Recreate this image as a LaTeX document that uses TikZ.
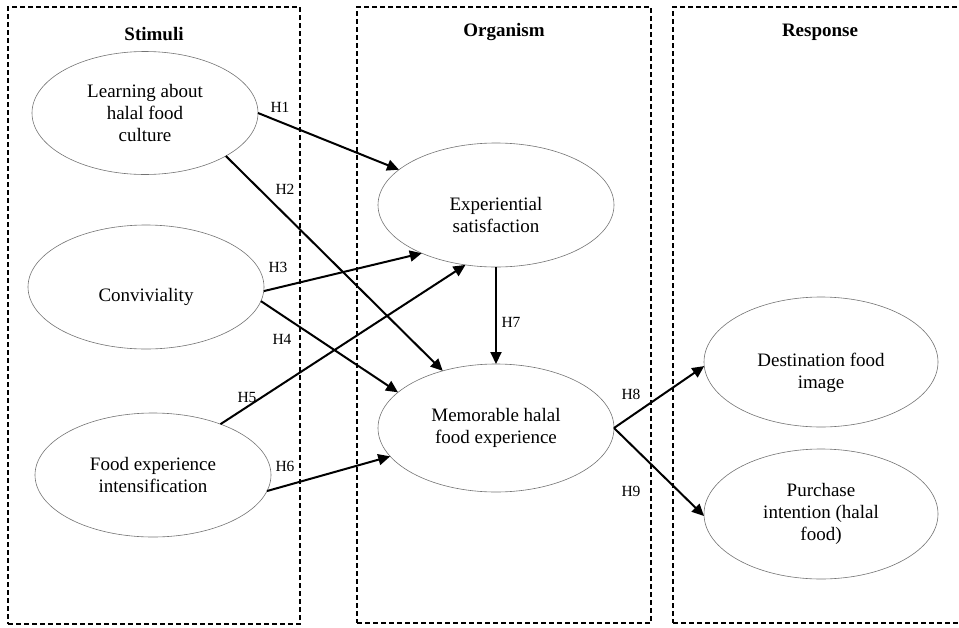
\documentclass[tikz,border=0pt]{standalone}
\usepackage{fontspec}
\setmainfont{Liberation Serif}
\usetikzlibrary{shapes.geometric,arrows.meta,positioning}

\tikzset{
  frame/.style={rectangle, draw, line width=1.5pt, dash pattern=on 5pt off 3pt, inner sep=0pt},
  ttl/.style={font=\fontsize{19}{22}\selectfont\bfseries},
  blob/.style={ellipse, draw=black!55, line width=0.6pt, inner sep=0pt, outer sep=0pt,
    align=center, font=\fontsize{19}{22}\selectfont},
  txt/.style={align=center, font=\fontsize{19}{22}\selectfont},
  hyp/.style={font=\fontsize{15.5}{17}\selectfont},
  arr/.style={line width=2pt, -{Triangle[length=12pt,width=11pt]}}
}

\begin{document}
\begin{tikzpicture}[x=1pt, y=1pt]

\useasboundingbox (0,0) rectangle (959,-627);

% frames
\node[frame, minimum width=292pt, minimum height=617pt] (stim) at (154,-315.5) {};
\node[frame, minimum width=294pt, minimum height=616pt] (orgm) at (504,-315) {};
\node[frame, minimum width=310pt, minimum height=616pt] (resp) at (828,-315) {};
\node[ttl] (stimt) at ([yshift=-28pt]stim.north) {Stimuli};
\node[ttl] (orgmt) at ([yshift=-26pt]orgm.north) {Organism};
\node[ttl] (respt) at ([xshift=-8pt, yshift=-26pt]resp.north) {Response};

% stimuli
\node[blob, minimum width=226pt, minimum height=123pt] (lrn) at (145,-113) {Learning about\\halal food\\culture};
\node[blob, minimum width=236pt, minimum height=124pt] (cnv) at (146,-287) {};
\node[txt] (cnvt) at ([yshift=-10pt]cnv.center) {Conviviality};
\node[blob, minimum width=236pt, minimum height=124pt] (fei) at (153,-475) {Food experience\\intensification};

% organism
\node[blob, minimum width=236pt, minimum height=124pt] (exs) at (496,-205) {};
\node[txt] (exst) at ([yshift=-10pt]exs.center) {Experiential\\satisfaction};
\node[blob, minimum width=236pt, minimum height=128pt] (mhf) at (496,-428) {Memorable halal\\food experience};

% response
\node[blob, minimum width=234pt, minimum height=130pt] (dfi) at (821,-362) {};
\node[txt] (dfit) at ([yshift=-11pt]dfi.center) {Destination food\\image};
\node[blob, minimum width=234pt, minimum height=130pt] (pin) at (821,-514) {Purchase\\intention (halal\\food)};

% paths
\draw[arr] (lrn.east) -- (exs.160.7);
\draw[arr] (lrn.-28.2) -- (mhf.133.5);
\draw[arr] (cnv.-2) -- (exs.213.7);
\draw[arr] (cnv.-7.4) -- (mhf.160.9);
\draw[arr] (fei.37) -- (exs.243.8);
\draw[arr] (fei.-8.7) -- (mhf.195.2);
\draw[arr] (exs.south) -- (mhf.north);
\draw[arr] (mhf.east) -- (dfi.182);
\draw[arr] (mhf.east) -- (pin.181.5);

\node[hyp] (h1) at (280,-107) {H1};
\node[hyp] (h2) at (285,-189) {H2};
\node[hyp] (h3) at (278,-267) {H3};
\node[hyp] (h4) at (282,-339) {H4};
\node[hyp] (h5) at (247,-397) {H5};
\node[hyp] (h6) at (285,-466) {H6};
\node[hyp] (h7) at (511,-322) {H7};
\node[hyp] (h8) at (631,-394) {H8};
\node[hyp] (h9) at (631,-491) {H9};

\end{tikzpicture}
\end{document}
